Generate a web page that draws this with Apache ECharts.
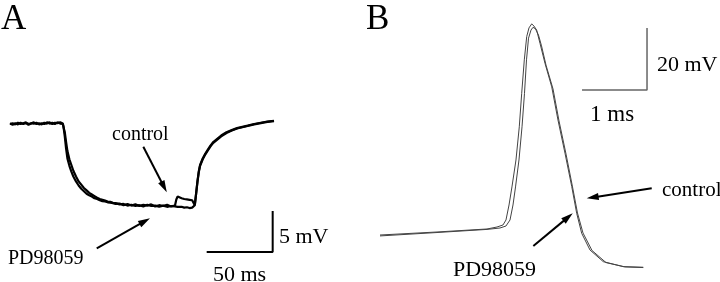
<!DOCTYPE html>
<html><head><meta charset="utf-8">
<script src="https://cdn.jsdelivr.net/npm/echarts@6/dist/echarts.min.js"></script>
<style>html,body{margin:0;padding:0;background:#fff}#c{width:720px;height:282px}</style>
</head><body><div id="c"></div>
<script>
// ---- Panel A: hyperpolarizing response (time in ms, voltage in mV relative to rest)
const aTimeMs = [0,2,4,6,8,10,12,14,16,18,20,22,24,26,28,30,32,34,36,38,40,
  40.5,41.5,42.5,43.5,45,46.5,48,50,52,54,56,58,60,62,64,66,68,70,72,74,76,78,80,
  83,86,89,92,95,98,101,104,107,110,113,116,119,122,125,126,127,128,130,132,134,136,138,139.5,
  140,141,142,143,144,146,148,150,152,154,157,160,164,168,172,176,180,185,190,195,200];
const aControlMv = [0.05,-0.1,0.1,-0.05,0.15,0,0.1,-0.1,0.05,0.2,0,0.1,-0.05,0.15,0.05,0.2,0,0.15,0.1,0.2,0.05,
  -0.3,-1.5,-3,-4.2,-5.1,-5.8,-6.4,-7,-7.5,-7.9,-8.2,-8.5,-8.7,-8.85,-9.05,-9.15,-9.3,-9.4,-9.45,-9.55,-9.6,-9.65,-9.75,
  -9.7,-9.9,-9.75,-9.95,-9.8,-10,-9.85,-9.95,-9.8,-10.05,-9.9,-10,-9.85,-10.05,-9.95,-9.2,-8.85,-8.9,-9.05,-9.15,-9.2,-9.25,-9.3,-9.5,
  -9.9,-8.5,-7,-5.8,-5,-4.2,-3.6,-3.1,-2.6,-2.2,-1.8,-1.4,-1.0,-0.75,-0.5,-0.35,-0.2,0,0.15,0.3,0.4];
const aPdMv = [0,0.1,-0.05,0.15,0,0.1,0.2,0,0.1,0.05,0.15,-0.05,0.1,0,0.2,0.05,0.15,0,0.2,0.05,0,
  -0.2,-1.0,-2.2,-3.3,-4.3,-5.0,-5.7,-6.4,-7,-7.4,-7.8,-8.1,-8.4,-8.6,-8.8,-9.0,-9.15,-9.25,-9.35,-9.45,-9.5,-9.6,-9.65,
  -9.8,-9.75,-9.95,-9.85,-10,-9.9,-10.05,-9.85,-10,-9.95,-10.1,-9.95,-10.1,-10,-10.05,-10.15,-10.1,-10.2,-10.1,-10.2,-10.15,-10.25,-10.2,-10.1,
  -9.9,-8.5,-7.1,-5.9,-5.1,-4.3,-3.7,-3.2,-2.7,-2.3,-1.9,-1.5,-1.1,-0.8,-0.55,-0.4,-0.25,-0.05,0.1,0.25,0.35];
const aScaleBarMs = [149,199,199];      // 50 ms horizontal, 5 mV vertical
const aScaleBarMv = [-15.6,-15.6,-10.6];

// ---- Panel B: action potentials (time in ms, voltage in mV relative to start)
const bControlMs = [0,0.877,1.646,1.8,1.892,1.938,1.985,2.03,2.092,2.143,2.18,2.22,2.257,2.292,2.334,2.369,2.41,2.462,2.538,2.642,2.738,2.846,2.95,3.026,3.103,3.231,3.435,3.743,4.05];
const bControlMv = [0,0.97,1.94,2.58,3.23,4.84,9.68,15.5,24.2,34.9,45.7,56.5,64,66.8,68.1,67.4,66.1,61.8,55.4,47.8,37.1,26.4,15.6,7.0,0.55,-4.84,-8.6,-10.2,-10.4];
const bPdMs = [0,0.877,1.646,1.846,1.938,2.0,2.046,2.085,2.138,2.185,2.223,2.254,2.285,2.323,2.354,2.392,2.438,2.485,2.554,2.662,2.754,2.862,2.962,3.038,3.123,3.262,3.477,3.769,4.05];
const bPdMv = [-0.3,0.8,1.8,2.26,2.9,4.84,9.68,15.5,24.2,34.9,45.7,56.5,63.5,66.1,67,66.5,64.5,61,54.8,47.1,36.8,26.1,15.5,7.1,0.65,-5.0,-8.9,-10.3,-10.5];
const bScaleBarMs = [3.108,4.108,4.108]; // 1 ms horizontal, 20 mV vertical
const bScaleBarMv = [46.8,46.8,66.8];

// ---- Arrows (annotation positions in data units: [tailT, tailV, headT, headV])
const aArrowControl = [101,-2.77,116.7,-7.68];
const aArrowPd = [65.7,-15.16,102.1,-11.85];
const bArrowControl = [4.18,15.06,3.271,12.13];
const bArrowPd = [2.359,-3.55,2.894,5.77];

const zip = (t, v) => t.map((x, i) => [x, v[i]]);
const arrow = a => [{coord:[a[0],a[1]], symbol:'none'}, {coord:[a[2],a[3]], symbol:'triangle', symbolSize:[7,12]}];

const serif = '"Liberation Serif", "Times New Roman", serif';
const txt = (s, x, y, size) => ({type:'text', left:x, top:y - size*0.62, style:{text:s, font: size + 'px ' + serif, fill:'#000'}});

const chart = echarts.init(document.getElementById('c'), null, {renderer:'canvas'});
chart.setOption({
  animation:false,
  backgroundColor:'#fff',
  grid:[
    {left:10, top:107.6, width:264, height:147.6},
    {left:380, top:18, width:279.5, height:260.4}
  ],
  xAxis:[
    {type:'value', gridIndex:0, min:0, max:200, show:false},
    {type:'value', gridIndex:1, min:0, max:4.3, show:false}
  ],
  yAxis:[
    {type:'value', gridIndex:0, min:-16, max:2, show:false},
    {type:'value', gridIndex:1, min:-14, max:70, show:false}
  ],
  series:[
    {type:'line', xAxisIndex:0, yAxisIndex:0, data:zip(aTimeMs,aPdMv), showSymbol:false, clip:false,
      lineStyle:{color:'#000', width:2.2}},
    {type:'line', xAxisIndex:0, yAxisIndex:0, data:zip(aTimeMs,aControlMv), showSymbol:false, clip:false,
      lineStyle:{color:'#000', width:2.2}},
    {type:'line', xAxisIndex:0, yAxisIndex:0, data:zip(aScaleBarMs,aScaleBarMv), showSymbol:false, clip:false,
      lineStyle:{color:'#000', width:2},
      markLine:{silent:true, animation:false, label:{show:false}, lineStyle:{color:'#000', width:2, type:'solid'},
        data:[arrow(aArrowControl), arrow(aArrowPd)]}},
    {type:'line', xAxisIndex:1, yAxisIndex:1, data:zip(bPdMs,bPdMv), showSymbol:false, clip:false,
      lineStyle:{color:'#444', width:1}},
    {type:'line', xAxisIndex:1, yAxisIndex:1, data:zip(bControlMs,bControlMv), showSymbol:false, clip:false,
      lineStyle:{color:'#444', width:1}},
    {type:'line', xAxisIndex:1, yAxisIndex:1, data:zip(bScaleBarMs,bScaleBarMv), showSymbol:false, clip:false,
      lineStyle:{color:'#666', width:1.5},
      markLine:{silent:true, animation:false, label:{show:false}, lineStyle:{color:'#000', width:2, type:'solid'},
        data:[arrow(bArrowControl), arrow(bArrowPd)]}}
  ],
  graphic:[
    txt('A', 1, 24, 35),
    txt('B', 366, 24, 35),
    txt('control', 112, 137, 20),
    txt('PD98059', 8, 261, 20),
    txt('5 mV', 279, 240, 22),
    txt('50 ms', 213, 278, 22),
    txt('20 mV', 657, 68, 22),
    txt('1 ms', 590, 118, 23),
    txt('control', 662, 193, 21),
    txt('PD98059', 453, 273, 22)
  ]
});
</script></body></html>
